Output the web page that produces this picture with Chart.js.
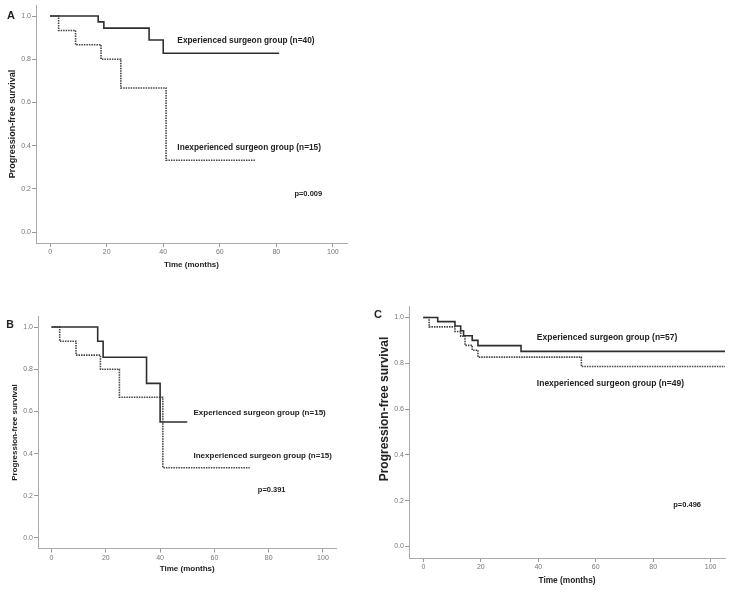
<!DOCTYPE html>
<html>
<head>
<meta charset="utf-8">
<script src="https://cdn.jsdelivr.net/npm/chart.js@4.4.1/dist/chart.umd.min.js"></script>
<style>
  html, body { margin: 0; padding: 0; background: #fff; }
  #page { position: relative; width: 730px; height: 595px; overflow: hidden; }
  .panel { position: absolute; }
</style>
</head>
<body>
<div id="page">
  <div class="panel" style="left:0;top:0"><canvas id="chartA" width="360" height="285"></canvas></div>
  <div class="panel" style="left:0;top:300px"><canvas id="chartB" width="360" height="295"></canvas></div>
  <div class="panel" style="left:365px;top:300px"><canvas id="chartC" width="365" height="295"></canvas></div>
</div>
<script>
// shared axis ticks
const xTicks = [0, 20, 40, 60, 80, 100];
const yTicks = [0, 0.2, 0.4, 0.6, 0.8, 1.0];

// A: all patients
const aExpMonths = [0, 17, 19, 35, 40, 81];
const aExpSurv = [1, 0.973, 0.944, 0.889, 0.828, 0.828];
const aInexpMonths = [0, 3, 9, 18, 25, 41, 72.5];
const aInexpSurv = [1, 0.933, 0.867, 0.8, 0.667, 0.333, 0.333];

// B
const bExpMonths = [0, 17, 19, 35, 40, 50];
const bExpSurv = [1, 0.933, 0.857, 0.733, 0.55, 0.55];
const bInexpMonths = [0, 3, 9, 18, 25, 41, 73];
const bInexpSurv = [1, 0.933, 0.867, 0.8, 0.667, 0.333, 0.333];

// C
const cExpMonths = [0, 5, 11, 13, 14, 17, 19, 34, 105];
const cExpSurv = [1, 0.982, 0.963, 0.942, 0.92, 0.9, 0.877, 0.852, 0.852];
const cInexpMonths = [0, 2, 11, 13, 14.5, 17, 19, 55, 105];
const cInexpSurv = [1, 0.959, 0.939, 0.918, 0.878, 0.857, 0.827, 0.786, 0.786];

const FONT = '"Liberation Sans", Arial, sans-serif';
const Y_TITLE = "Progression-free survival";

// 文字標註 (group labels, p value, panel letter, optional shifted y title)
const kmText = {
  id: "kmText",
  afterDraw(chart, args, opts) {
    const { ctx, scales: { x, y } } = chart;
    ctx.save();
    ctx.fillStyle = "#222";
    ctx.textBaseline = "middle";
    ctx.textAlign = "left";
    (opts.notes || []).forEach((n) => {
      ctx.font = `bold ${n.size}px ${FONT}`;
      ctx.fillText(n.text, x.getPixelForValue(n.x), y.getPixelForValue(n.y));
    });
    if (opts.letter) {
      ctx.font = `bold ${opts.letter.size}px ${FONT}`;
      ctx.textAlign = "center";
      ctx.fillText(opts.letter.text, opts.letter.px, opts.letter.py);
    }
    if (opts.yTitle) {
      ctx.font = `bold ${opts.yTitle.size}px ${FONT}`;
      ctx.textAlign = "center";
      ctx.translate(opts.yTitle.px, opts.yTitle.py);
      ctx.rotate(-Math.PI / 2);
      ctx.fillText(Y_TITLE, 0, 0);
    }
    ctx.restore();
  },
};

function drawKM(id, sets, o) {
  const canvas = document.getElementById(id);
  return new Chart(canvas, {
    type: "line",
    data: {
      datasets: sets.map((s) => ({
        data: s.months.map((m, i) => ({ x: m, y: s.surv[i] })),
        borderColor: s.dotted ? "#444" : "#2e2e2e",
        borderWidth: 1.6,
        borderDash: s.dotted ? [1.5, 1] : [],
        stepped: true,
        pointRadius: 0,
        fill: false,
      })),
    },
    options: {
      responsive: false,
      animation: false,
      layout: { padding: o.pad },
      plugins: {
        legend: { display: false },
        tooltip: { enabled: false },
        kmText: { notes: o.notes, letter: o.letter, yTitle: o.yTitleManual },
      },
      scales: {
        x: {
          type: "linear",
          min: -5,
          max: 105,
          afterBuildTicks: (s) => { s.ticks = xTicks.map((v) => ({ value: v })); },
          afterFit: (s) => { s.height = o.xh; },
          ticks: { color: "#777", padding: 1, maxRotation: 0, font: { family: FONT, size: 7 } },
          grid: { drawOnChartArea: false, tickLength: 4, color: "#999" },
          border: { color: "#aaa", width: 1 },
          title: {
            display: true,
            text: "Time (months)",
            color: "#222",
            padding: { top: 0, bottom: o.xTitlePad },
            font: { family: FONT, size: o.xTitleSize, weight: "bold" },
          },
        },
        y: {
          type: "linear",
          min: -0.05,
          max: 1.05,
          afterBuildTicks: (s) => { s.ticks = yTicks.map((v) => ({ value: v })); },
          afterFit: (s) => { s.width = o.yw; },
          ticks: {
            color: "#777",
            padding: 1,
            font: { family: FONT, size: 7 },
            callback: (v) => v.toFixed(1),
          },
          grid: { drawOnChartArea: false, tickLength: 4, color: "#999" },
          border: { color: "#aaa", width: 1 },
          title: {
            display: !o.yTitleManual,
            text: Y_TITLE,
            color: "#222",
            padding: { top: o.yTitlePad || 0, bottom: 0 },
            font: { family: FONT, size: o.yTitleSize || 9, weight: "bold" },
          },
        },
      },
    },
    plugins: [kmText],
  });
}

drawKM("chartA", [
  { months: aExpMonths, surv: aExpSurv },
  { months: aInexpMonths, surv: aInexpSurv, dotted: true },
], {
  pad: { top: 2, right: 13, left: 0, bottom: 0 },
  yw: 36, xh: 42,
  xTitleSize: 8, xTitlePad: 15.2,
  yTitleSize: 9, yTitlePad: 7.6,
  letter: { text: "A", px: 11, py: 16, size: 11 },
  notes: [
    { text: "Experienced surgeon group (n=40)", x: 45, y: 0.887, size: 8.3 },
    { text: "Inexperienced surgeon group (n=15)", x: 45, y: 0.393, size: 8.3 },
    { text: "p=0.009", x: 86.4, y: 0.178, size: 7.5 },
  ],
});

drawKM("chartB", [
  { months: bExpMonths, surv: bExpSurv },
  { months: bInexpMonths, surv: bInexpSurv, dotted: true },
], {
  pad: { top: 16.5, right: 23.5, left: 0, bottom: 0 },
  yw: 38, xh: 46.5,
  xTitleSize: 8, xTitlePad: 21.2,
  yTitleSize: 8, yTitlePad: 10.2,
  letter: { text: "B", px: 10, py: 25, size: 10.5 },
  notes: [
    { text: "Experienced surgeon group (n=15)", x: 52.3, y: 0.594, size: 8 },
    { text: "Inexperienced surgeon group (n=15)", x: 52.3, y: 0.39, size: 8 },
    { text: "p=0.391", x: 76, y: 0.227, size: 7.5 },
  ],
});

drawKM("chartC", [
  { months: cExpMonths, surv: cExpSurv },
  { months: cInexpMonths, surv: cInexpSurv, dotted: true },
], {
  pad: { top: 6, right: 5, left: 0, bottom: 0 },
  yw: 44, xh: 37,
  xTitleSize: 8.3, xTitlePad: 9.3,
  yTitleManual: { px: 20, py: 109, size: 12 },
  letter: { text: "C", px: 13, py: 15, size: 11 },
  notes: [
    { text: "Experienced surgeon group (n=57)", x: 39.5, y: 0.91, size: 8.5 },
    { text: "Inexperienced surgeon group (n=49)", x: 39.5, y: 0.713, size: 8.5 },
    { text: "p=0.496", x: 87, y: 0.18, size: 7.5 },
  ],
});
</script>
</body>
</html>
